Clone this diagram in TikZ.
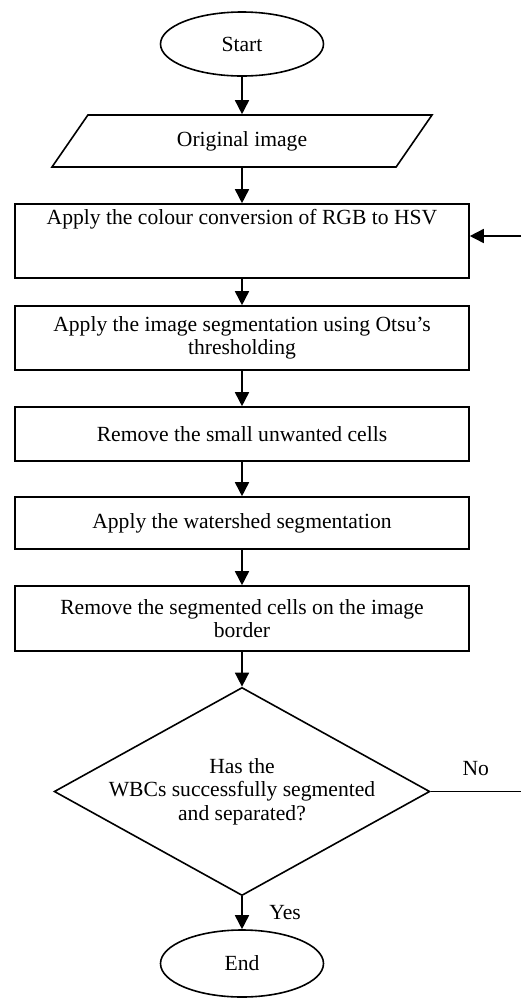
\documentclass[tikz,border=0pt]{standalone}
\usepackage{fontspec}
\setmainfont{Liberation Serif}
\usetikzlibrary{shapes.geometric}
\usetikzlibrary{arrows.meta}
\tikzset{
    terminal/.style={draw, ellipse, line width=0.8pt, minimum width=81.5pt, minimum height=32pt, inner sep=0pt},
    io/.style={draw, trapezium, trapezium left angle=28.7, trapezium right angle=151.3,
        trapezium stretches body, minimum width=190pt, minimum height=26pt, line width=0.8pt, inner sep=0pt},
    process/.style={draw, rectangle, line width=0.8pt, minimum width=227pt, align=center, inner sep=0pt},
    decision/.style={draw, diamond, aspect=1.805, line width=0.8pt, minimum width=185pt, minimum height=102.5pt,
        inner sep=-1pt, align=center},
    flow/.style={-{Triangle[length=7pt,width=7pt]}, line width=0.8pt}
}

\begin{document}
\begin{tikzpicture}[x=0.5pt, y=-0.5pt, every node/.style={font=\fontsize{10.8}{11.8}\selectfont}]
    \useasboundingbox (0,0) rectangle (521,998);

    \node[terminal] (START) at (242,44) {Start};
    \node[io] (ORIG) at (242,141) {Original image};
    \node[process, minimum height=37pt, text height=10.25pt, text depth=26.75pt] (HSV) at (242,241) {Apply the colour conversion of RGB to HSV};
    \node[process, minimum height=32pt] (OTSU) at (242,338) {Apply the image segmentation using Otsu's\\thresholding};
    \node[process, minimum height=27pt] (SMALL) at (242,434) {Remove the small unwanted cells};
    \node[process, minimum height=26pt] (WATER) at (242,523) {Apply the watershed segmentation};
    \node[process, minimum height=32.5pt] (BORDER) at (242,618.5) {Remove the segmented cells on the image\\border};
    \node[decision] (CHECK) at (242,791.5) {Has the\\WBCs successfully segmented\\and separated?};
    \node[terminal, minimum height=33.5pt] (END) at (242,963.5) {End};

    \coordinate (BACK) at (521,236);
    \coordinate (NOEND) at (521,791.5);

    \draw[flow] (START) -- (ORIG);
    \draw[flow] (ORIG) -- (HSV);
    \draw[flow] (HSV) -- (OTSU);
    \draw[flow] (OTSU) -- (SMALL);
    \draw[flow] (SMALL) -- (WATER);
    \draw[flow] (WATER) -- (BORDER);
    \draw[flow] (BORDER) -- (CHECK);
    \draw[flow] (CHECK) -- node[right=10pt] {Yes} (END);

    \draw[line width=0.8pt] (CHECK.east) -- node[above=4pt] {No} (NOEND);
    \draw[flow] (BACK) -- (BACK -| HSV.east);
\end{tikzpicture}
\end{document}
